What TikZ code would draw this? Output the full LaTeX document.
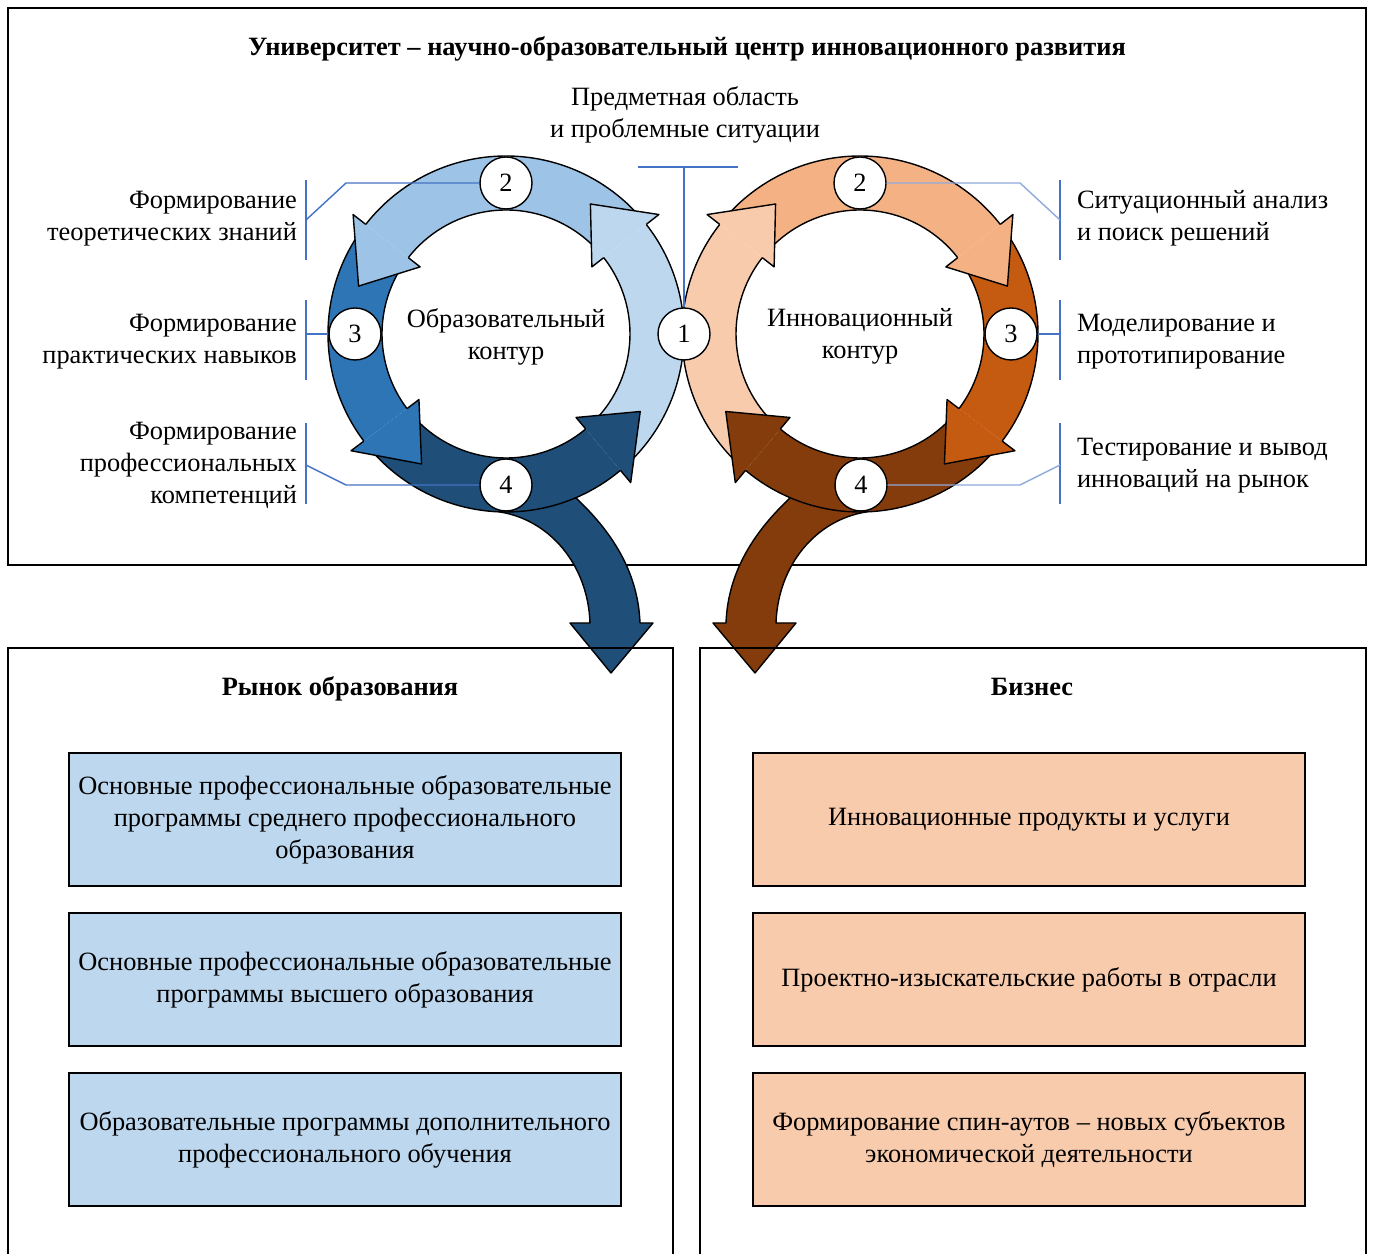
\documentclass[tikz,border=0pt]{standalone}
\usepackage{fontspec}
\setmainfont{Liberation Serif}
\usepackage{tikz}
\usetikzlibrary{positioning}

\definecolor{obrA}{HTML}{BDD7EE}
\definecolor{obrB}{HTML}{9DC3E6}
\definecolor{obrC}{HTML}{2E75B6}
\definecolor{obrD}{HTML}{1F4E79}
\definecolor{innA}{HTML}{F8CBAD}
\definecolor{innB}{HTML}{F4B183}
\definecolor{innC}{HTML}{C55A11}
\definecolor{innD}{HTML}{843C0C}
\definecolor{skobka}{HTML}{4472C4}
\definecolor{skobkaSv}{HTML}{8FAADC}

\newcommand{\osn}{\fontsize{13.2}{16}\selectfont}

% kontur: 4 strelki po krugu + vyhod vniz
\newcommand{\kontur}[4]{%
  \filldraw[ring, fill=#4] (0,-150) -- (-6,-178) .. controls (44,-186) and (82,-231) .. (84,-289) -- (64,-289) -- (105,-339) -- (147,-289) -- (134,-289) .. controls (132,-236) and (104,-196) .. (70,-164) -- cycle;
  \foreach \t/\b/\c in {312/398/#1, 40/142/#2, 144/217/#3, 219/310/#4}{
    \fill[fill=\c] (\t:124) arc[start angle=\t, end angle=\b, radius=124] -- (\b:178) arc[start angle=\b, end angle=\t, radius=178] -- cycle;
    \draw[ring] (\t:124) arc[start angle=\t, end angle=\b, radius=124];
    \draw[ring] (\t:178) arc[start angle=\t, end angle=\b, radius=178];
  }
  \foreach \b/\p/\c in {398/417/#1, 142/162/#2, 217/237/#3, 310/330/#4}{
    \fill[fill=\c] (\b:109) -- (\b:194) -- (\p:155) -- cycle;
    \draw[ring] (\b:178) -- (\b:194) -- (\p:155) -- (\b:109) -- (\b:124);
  }
}

\begin{document}
\begin{tikzpicture}[x=0.5pt, y=0.5pt, font=\osn,
    ramka/.style={draw, line width=0.75pt},
    ring/.style={draw=black, line width=0.7pt, line join=round},
    num/.style={circle, draw, fill=white, line width=0.7pt, minimum size=26pt, inner sep=0pt},
    skob/.style={skobka, line width=1pt},
    vynoska/.style={skobka, line width=0.7pt},
    prog/.style={rectangle, draw, line width=0.75pt, minimum width=276pt, minimum height=66.5pt, align=center}]
    \useasboundingbox (0,0) rectangle (1373,1254);

    % Verhnij blok
    \draw[ramka] (8,689) rectangle (1366,1246);
    \node (zagolovok) at (687,1205) {\bfseries Университет – научно-образовательный центр инновационного развития};
    \node (predmet) [align=center] at (685,1139.5) {Предметная область\\и проблемные ситуации};

    % Kontury
    \begin{scope}[shift={(506,920)}]
        \kontur{obrA}{obrB}{obrC}{obrD}
    \end{scope}
    \begin{scope}[shift={(860,920)}, xscale=-1]
        \kontur{innA}{innB}{innC}{innD}
    \end{scope}

    \node (obrKontur) [align=center] at (506,917.5) {Образовательный\\контур};
    \node (innKontur) [align=center] at (860,917.5) {Инновационный\\контур};

    % Nomera etapov
    \node (start1) [num] at (684,920) {1};
    \node (obr2) [num] at (506,1071) {2};
    \node (obr3) [num] at (355,920) {3};
    \node (obr4) [num] at (506,769) {4};
    \node (inn2) [num] at (860,1071) {2};
    \node (inn3) [num] at (1011,920) {3};
    \node (inn4) [num] at (861,769) {4};

    % Predmetnaya oblast
    \coordinate (pred) at (684,1087);
    \draw[skob] (638,1087) -- (738,1087);
    \draw[skob] (pred) -- (start1.north);

    % Podpisi sleva
    \node (teor) [anchor=east, align=right] at (304,1035) {Формирование\\теоретических знаний};
    \node (prakt) [anchor=east, align=right] at (304,912) {Формирование\\практических навыков};
    \node (komp) [anchor=east, align=right] at (304,789) {Формирование\\профессиональных\\компетенций};
    \coordinate (sk1) at (306,1034);
    \coordinate (sk2) at (306,920);
    \coordinate (sk3) at (306,789);
    \draw[skob] (sk1) ++(0,40) -- ++(0,-80);
    \draw[skob] (sk2) ++(0,34) -- ++(0,-80);
    \draw[skob] (sk3) ++(0,42) -- ++(0,-81);
    \draw[vynoska] (sk1) -- ++(40,37) -- (obr2.west);
    \draw[vynoska] (sk2) -- (obr3.west);
    \draw[vynoska] (sk3) -- ++(40,-20) -- (obr4.west);

    % Podpisi sprava
    \node (analiz) [anchor=west, align=left] at (1070,1036) {Ситуационный анализ\\и поиск решений};
    \node (model) [anchor=west, align=left] at (1070,912) {Моделирование и\\прототипирование};
    \node (test) [anchor=west, align=left] at (1070,788) {Тестирование и вывод\\инноваций на рынок};
    \coordinate (sk4) at (1060,1034);
    \coordinate (sk5) at (1060,920);
    \coordinate (sk6) at (1060,789);
    \draw[skob] (sk4) ++(0,40) -- ++(0,-80);
    \draw[skob] (sk5) ++(0,34) -- ++(0,-80);
    \draw[skob] (sk6) ++(0,42) -- ++(0,-81);
    \draw[vynoska, skobkaSv] (sk4) -- ++(-40,37) -- (inn2.east);
    \draw[vynoska] (sk5) -- (inn3.east);
    \draw[vynoska, skobkaSv] (sk6) -- ++(-40,-20) -- (inn4.east);

    % Nizhnie bloki
    \draw[ramka] (8,0) |- (673,606) -- (673,0);
    \draw[ramka] (700,0) |- (1366,606) -- (1366,0);
    \node (rynok) at (340,565) {\bfseries Рынок образования};
    \node (biznes) at (1032,567) {\bfseries Бизнес};

    \node (prog1) [prog, fill=obrA] at (345,434.5) {Основные профессиональные образовательные\\программы среднего профессионального\\образования};
    \node (prog2) [prog, fill=obrA, below=12.8pt of prog1] {Основные профессиональные образовательные\\программы высшего образования};
    \node (prog3) [prog, fill=obrA, below=12.8pt of prog2] {Образовательные программы дополнительного\\профессионального обучения};

    \node (biz1) [prog, fill=innA] at (1029,434.5) {Инновационные продукты и услуги};
    \node (biz2) [prog, fill=innA, below=12.8pt of biz1] {Проектно-изыскательские работы в отрасли};
    \node (biz3) [prog, fill=innA, below=12.8pt of biz2] {Формирование спин-аутов – новых субъектов\\экономической деятельности};
\end{tikzpicture}
\end{document}
